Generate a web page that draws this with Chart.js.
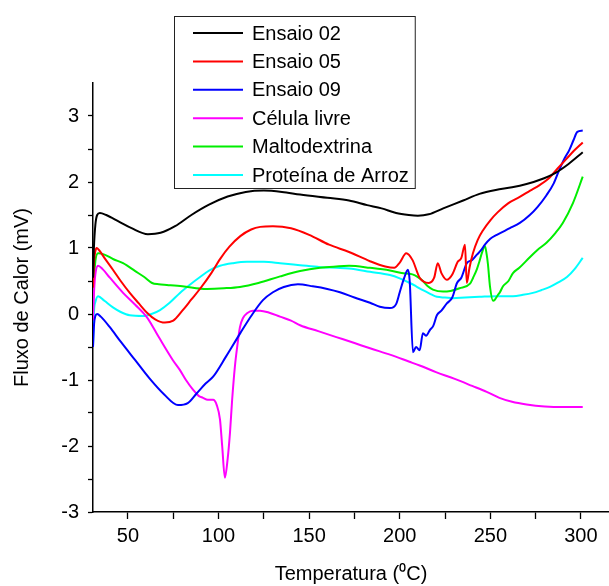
<!DOCTYPE html>
<html>
<head>
<meta charset="utf-8">
<script src="https://cdn.jsdelivr.net/npm/chart.js@4/dist/chart.umd.min.js"></script>
<style>
  html, body { margin: 0; padding: 0; background: #fff; }
  #wrap { width: 609px; height: 586px; }
</style>
</head>
<body>
<div id="wrap"><canvas id="dsc" width="609" height="586"></canvas></div>
<script>
// DSC heat-flow curves (mV) versus temperature (°C)
const seriesNames = ['Ensaio 02', 'Ensaio 05', 'Ensaio 09', 'Célula livre', 'Maltodextrina', 'Proteína de Arroz'];
const seriesColors = ['#000000', '#ff0000', '#0000ff', '#ff00ff', '#00ee00', '#00ffff'];

const tEnsaio02 = [30.7, 31.2, 32, 33, 34.5, 38, 45, 52, 61, 68, 76, 85, 95, 105, 115, 125, 135, 145, 160, 172, 182, 190, 198, 205, 210, 216, 224, 235, 244, 253, 262, 270, 277, 286, 293, 301];
const fEnsaio02 = [0.55, 1.0, 1.35, 1.5, 1.53, 1.5, 1.4, 1.3, 1.21, 1.23, 1.33, 1.5, 1.66, 1.78, 1.85, 1.87, 1.85, 1.81, 1.76, 1.72, 1.65, 1.6, 1.53, 1.5, 1.49, 1.51, 1.6, 1.72, 1.82, 1.88, 1.92, 1.97, 2.03, 2.14, 2.27, 2.45];

const tEnsaio05 = [30.7, 31.3, 32, 32.7, 34, 37, 41.7, 46, 51, 56, 60.5, 65, 70.4, 75, 80, 85, 90, 96, 101, 106, 112, 118, 123, 130, 140, 150, 161, 172, 183.6, 192, 197, 200, 203.6, 207, 211, 216, 219, 221, 223, 226, 229, 232, 234, 236, 237, 238.5, 240.4, 243, 246, 250, 254, 260, 266, 272, 277, 282, 287, 292, 296, 301];
const fEnsaio05 = [0.4, 0.8, 0.95, 1.0, 0.97, 0.85, 0.67, 0.5, 0.32, 0.16, 0.02, -0.08, -0.13, -0.1, 0.05, 0.22, 0.39, 0.62, 0.84, 1.02, 1.18, 1.28, 1.32, 1.33, 1.3, 1.2, 1.05, 0.94, 0.8, 0.72, 0.7, 0.78, 0.92, 0.82, 0.55, 0.47, 0.55, 0.77, 0.62, 0.52, 0.6, 0.79, 0.85, 1.05, 0.47, 0.7, 0.92, 1.12, 1.27, 1.42, 1.54, 1.68, 1.77, 1.87, 1.95, 2.05, 2.2, 2.35, 2.47, 2.6];

const tEnsaio09 = [30.7, 31.3, 32, 33, 35, 40, 46, 54, 62, 70, 77.6, 83, 88, 93, 97, 104, 112, 118, 124.5, 130, 136, 143.8, 152, 160, 167, 175, 183.6, 189, 194.6, 198, 200, 202.5, 204.5, 205.5, 207.3, 209, 211, 212.8, 214.5, 216.7, 218.5, 220.5, 223, 226, 229, 231.6, 234, 237, 240, 242.6, 245, 247, 250, 253.6, 260.8, 266.3, 271.8, 276, 281, 285, 288, 291, 293.5, 296, 298, 301];
const fEnsaio09 = [-0.5, -0.15, -0.03, 0.0, -0.04, -0.2, -0.42, -0.7, -0.98, -1.22, -1.38, -1.35, -1.2, -1.05, -0.95, -0.65, -0.29, -0.03, 0.21, 0.33, 0.41, 0.45, 0.42, 0.38, 0.33, 0.25, 0.17, 0.11, 0.09, 0.15, 0.33, 0.55, 0.67, 0.5, -0.58, -0.5, -0.55, -0.29, -0.33, -0.24, -0.18, -0.02, 0.05, 0.16, 0.25, 0.47, 0.55, 0.77, 0.82, 0.9, 0.97, 1.05, 1.14, 1.2, 1.3, 1.38, 1.5, 1.62, 1.8, 1.98, 2.18, 2.36, 2.48, 2.64, 2.76, 2.78];

const tCelula = [30.7, 31.3, 32, 33.5, 36, 40, 47.3, 54, 60.5, 67, 74.8, 78.7, 82, 86, 89, 91.4, 94, 97, 99, 100.8, 102, 103.5, 105, 106.3, 107.5, 109, 110.5, 111.8, 113.5, 115.7, 119, 122.9, 128, 133.9, 140, 145, 155, 165, 175, 183.6, 195, 205, 211, 220, 230, 240, 248, 255, 262, 270, 280, 290, 301];
const fCelula = [-0.1, 0.35, 0.6, 0.73, 0.68, 0.55, 0.32, 0.14, -0.05, -0.35, -0.7, -0.85, -1.0, -1.15, -1.24, -1.27, -1.3, -1.3, -1.38, -1.6, -2.0, -2.48, -2.2, -1.8, -1.3, -0.8, -0.45, -0.2, -0.06, 0.01, 0.05, 0.05, 0.02, -0.04, -0.1, -0.17, -0.26, -0.35, -0.44, -0.52, -0.62, -0.72, -0.78, -0.88, -0.98, -1.09, -1.18, -1.27, -1.33, -1.37, -1.40, -1.41, -1.41];

const tMalto = [30.7, 31.3, 32, 33.5, 37, 42, 47.3, 54, 59, 63.3, 67, 71.5, 80, 93.6, 103, 111.8, 122, 134, 145, 156, 165, 172, 183.6, 194.6, 201, 207, 210, 212.8, 215.5, 218.3, 223.9, 228, 233, 238.8, 240.5, 242.6, 244, 245.4, 247, 248, 248.7, 249.8, 251.5, 252.6, 254, 255.3, 257, 260, 262.5, 266, 271.8, 276, 281, 286, 290, 295.6, 301];
const fMalto = [0.0, 0.55, 0.8, 0.92, 0.9, 0.83, 0.77, 0.65, 0.56, 0.47, 0.45, 0.44, 0.42, 0.38, 0.39, 0.41, 0.47, 0.57, 0.65, 0.7, 0.72, 0.73, 0.7, 0.66, 0.62, 0.6, 0.56, 0.5, 0.42, 0.37, 0.34, 0.35, 0.39, 0.46, 0.55, 0.68, 0.8, 0.93, 1.03, 0.9, 0.75, 0.42, 0.2, 0.22, 0.28, 0.33, 0.42, 0.5, 0.62, 0.7, 0.86, 0.97, 1.08, 1.23, 1.38, 1.68, 2.08];

const tArroz = [30.7, 31.3, 32, 33.5, 37, 41.7, 46, 51, 58.3, 63, 67.7, 73, 78.7, 84, 89.8, 95, 100.8, 108, 115.7, 125, 134, 145, 156, 165, 172, 183.6, 194.6, 200, 205.6, 209, 212.8, 216.5, 220.5, 225, 229.4, 236, 244, 253, 262.5, 268, 273.5, 278, 282.9, 287, 292.3, 296.5, 301];
const fArroz = [-0.5, 0.05, 0.18, 0.27, 0.2, 0.1, 0.03, -0.02, -0.03, 0.0, 0.06, 0.17, 0.32, 0.44, 0.56, 0.66, 0.73, 0.77, 0.79, 0.79, 0.77, 0.74, 0.71, 0.7, 0.69, 0.64, 0.59, 0.54, 0.47, 0.42, 0.36, 0.31, 0.26, 0.25, 0.24, 0.25, 0.26, 0.27, 0.27, 0.29, 0.32, 0.36, 0.41, 0.47, 0.56, 0.68, 0.85];

const xTicks = [50, 75, 100, 125, 150, 175, 200, 225, 250, 275, 300];
const yTicks = [-3, -2.5, -2, -1.5, -1, -0.5, 0, 0.5, 1, 1.5, 2, 2.5, 3];

const temps = [tEnsaio02, tEnsaio05, tEnsaio09, tCelula, tMalto, tArroz];
const fluxes = [fEnsaio02, fEnsaio05, fEnsaio09, fCelula, fMalto, fArroz];

const FONT = "'Liberation Sans', Arial, sans-serif";

const datasets = seriesNames.map((name, i) => ({
  label: name,
  data: temps[i].map((t, j) => ({ x: t, y: fluxes[i][j] })),
  borderColor: seriesColors[i],
  backgroundColor: seriesColors[i],
  borderWidth: 2,
  pointRadius: 0,
  fill: false,
  cubicInterpolationMode: 'monotone'
}));

// white page behind the plot
const whiteBg = {
  id: 'whiteBg',
  beforeDraw(chart) {
    const c = chart.ctx;
    c.save();
    c.fillStyle = '#fff';
    c.fillRect(0, 0, chart.width, chart.height);
    c.restore();
  }
};

// boxed legend inside the upper part of the plot
const boxLegend = {
  id: 'boxLegend',
  afterDraw(chart) {
    const c = chart.ctx;
    const left = 174, top = 16, rowH = 28.4, firstRow = 33;
    const lineX0 = 193, lineX1 = 243, textX = 252;
    c.save();
    c.font = '20px ' + FONT;
    let maxW = 0;
    chart.data.datasets.forEach(ds => { maxW = Math.max(maxW, c.measureText(ds.label).width); });
    const right = textX + maxW + 6;
    const bottom = 188;
    c.fillStyle = '#fff';
    c.fillRect(left, top, right - left, bottom - top);
    c.strokeStyle = '#222';
    c.lineWidth = 1;
    c.strokeRect(left + 0.5, top + 0.5, right - left, bottom - top);
    c.textBaseline = 'middle';
    c.textAlign = 'left';
    chart.data.datasets.forEach((ds, i) => {
      const y = firstRow + i * rowH;
      c.strokeStyle = ds.borderColor;
      c.lineWidth = 2;
      c.beginPath();
      c.moveTo(lineX0, y);
      c.lineTo(lineX1, y);
      c.stroke();
      c.fillStyle = '#000';
      c.fillText(ds.label, textX, y + 1);
    });
    c.restore();
  }
};

new Chart(document.getElementById('dsc'), {
  type: 'line',
  data: { datasets },
  options: {
    responsive: false,
    animation: false,
    events: [],
    layout: { padding: { top: 83, left: 0, right: 0, bottom: 0 } },
    plugins: { legend: { display: false }, tooltip: { enabled: false } },
    scales: {
      x: {
        type: 'linear',
        position: 'bottom',
        min: 30.7,
        max: 315.5,
        afterBuildTicks(scale) { scale.ticks = xTicks.map(v => ({ value: v })); },
        afterFit(scale) { scale.height = 74; scale.paddingLeft = 0; scale.paddingRight = 0; },
        ticks: {
          autoSkip: false,
          maxRotation: 0,
          padding: 5,
          color: '#000',
          font: { family: FONT, size: 20 },
          callback: v => (v % 50 === 0 ? String(v) : '')
        },
        grid: { drawOnChartArea: false, drawTicks: true, tickLength: 7, tickColor: '#000', tickWidth: 1.3 },
        border: { display: true, color: '#000', width: 1.5 },
        title: {
          display: true,
          text: 'Temperatura (⁰C)',
          color: '#000',
          font: { family: FONT, size: 20 },
          padding: { top: 0, bottom: 0 }
        }
      },
      y: {
        type: 'linear',
        position: 'left',
        min: -3,
        max: 3.5,
        afterBuildTicks(scale) { scale.ticks = yTicks.map(v => ({ value: v })); },
        afterFit(scale) { scale.width = 93; scale.paddingTop = 0; scale.paddingBottom = 0; },
        ticks: {
          autoSkip: false,
          padding: 9,
          color: '#000',
          font: { family: FONT, size: 20 },
          callback: v => (Number.isInteger(v) ? String(v) : '')
        },
        grid: { drawOnChartArea: false, drawTicks: true, tickLength: 5, tickColor: '#000', tickWidth: 1.3 },
        border: { display: true, color: '#000', width: 1.5 },
        title: {
          display: true,
          text: 'Fluxo de Calor (mV)',
          color: '#000',
          font: { family: FONT, size: 20 },
          padding: { top: 10, bottom: 0 }
        }
      }
    }
  },
  plugins: [whiteBg, boxLegend]
});
</script>
</body>
</html>
